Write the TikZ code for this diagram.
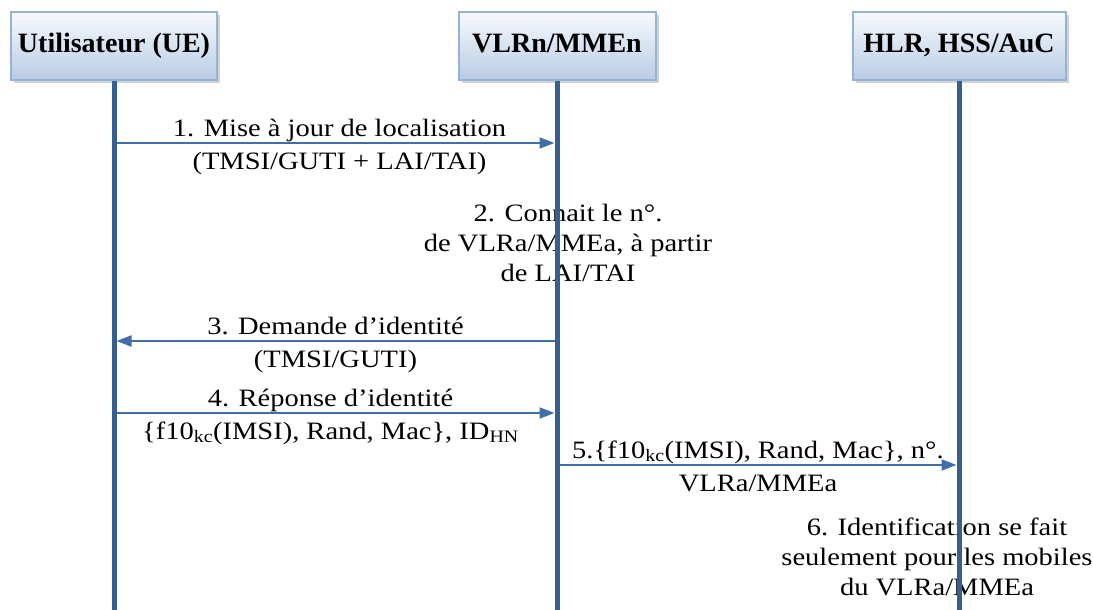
\documentclass[tikz,border=0pt]{standalone}
\usepackage{fontspec}
\setmainfont{Liberation Serif}
\newfontfamily\msgfont{Liberation Serif}[FakeStretch=1.14]
\usetikzlibrary{arrows.meta, positioning, shadows}

\definecolor{headtop}{RGB}{247,250,253}
\definecolor{headbot}{RGB}{184,204,228}
\definecolor{headline}{RGB}{149,179,215}
\definecolor{lifecol}{RGB}{54,96,146}
\definecolor{msgcol}{RGB}{64,110,166}

\begin{document}
\begin{tikzpicture}[
  x=1pt, y=1pt,
  head/.style={rectangle, draw=headline, line width=2pt, top color=headtop, bottom color=headbot, minimum height=68pt, text height=19pt, text depth=5pt, font=\fontsize{28}{32}\selectfont\bfseries, drop shadow={shadow xshift=3pt, shadow yshift=-3pt, fill=gray!70}},
  life/.style={draw=lifecol, line width=5pt},
  msg/.style={-{Triangle[length=15pt, width=11pt]}, draw=msgcol, line width=2pt, shorten <=2.5pt, shorten >=2.5pt},
  lbl/.style={inner sep=0pt, text height=18pt, text depth=6pt, font=\msgfont\fontsize{25}{30}\selectfont},
  note/.style={inner sep=0pt, align=center, font=\msgfont\fontsize{25}{30}\selectfont}
]

\useasboundingbox (0,0) rectangle (1093,-610);

\node (ue) [head, minimum width=206pt] at (114,-46) {Utilisateur (UE)};
\node (vlr) [head, minimum width=197pt] at (557,-46) {VLRn/MMEn};
\node (hlr) [head, minimum width=213pt] at (959,-46) {HLR, HSS/AuC};

\node (connait) [note] at (568,-243) {2. Connait le n°.\\de VLRa/MMEa, à partir\\de LAI/TAI};
\node (ident) [note] at (937,-557) {6. Identification se fait\\seulement pour les mobiles\\du VLRa/MMEa};

\coordinate (bot) at (0,-610);
\coordinate (m1) at (0,-143);
\coordinate (m3) at (0,-341);
\coordinate (m4) at (0,-413);
\coordinate (m5) at (0,-465);

\draw [life] (ue.south) -- (ue |- bot);
\draw [life] (vlr.south) -- (vlr |- bot);
\draw [life] (hlr.south) -- (hlr |- bot);

\draw [msg] (ue |- m1) -- node [lbl, above, xshift=4pt] (t1a) {1. Mise à jour de localisation}
  node [lbl, below=7pt, xshift=4pt] (t1b) {(TMSI/GUTI + LAI/TAI)} (vlr |- m1);
\draw [msg] (vlr |- m3) -- node [lbl, above] (t3a) {3. Demande d’identité}
  node [lbl, below=7pt] (t3b) {(TMSI/GUTI)} (ue |- m3);
\draw [msg] (ue |- m4) -- node [lbl, above, xshift=-5pt] (t4a) {4. Réponse d’identité}
  node [lbl, below=7pt, xshift=-5pt] (t4b) {\{f10\textsubscript{kc}(IMSI), Rand, Mac\}, ID\textsubscript{HN}} (vlr |- m4);
\draw [msg] (vlr |- m5) -- node [lbl, above] (t5a) {5.\{f10\textsubscript{kc}(IMSI), Rand, Mac\}, n°.}
  node [lbl, below=7pt] (t5b) {VLRa/MMEa} (hlr |- m5);

\end{tikzpicture}
\end{document}
